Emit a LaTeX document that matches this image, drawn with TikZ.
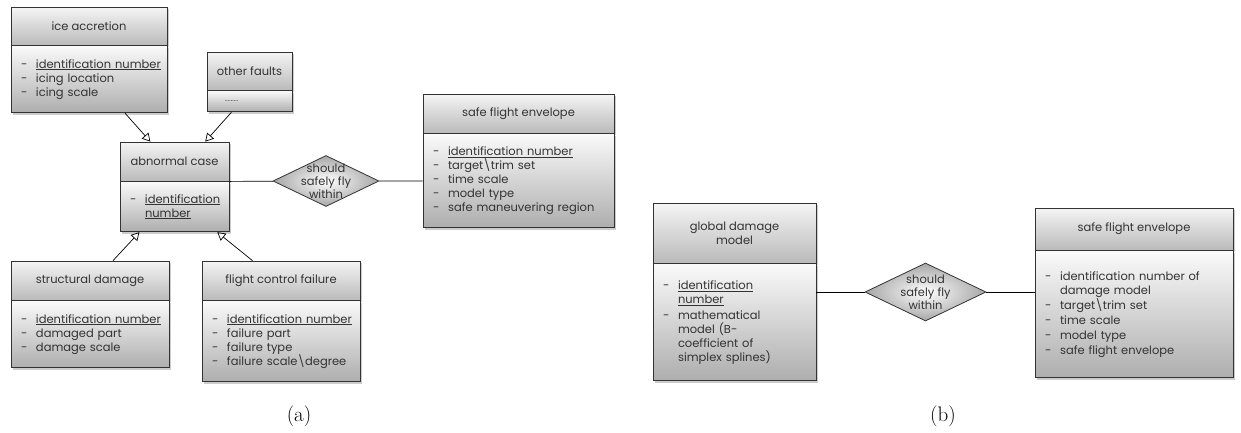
\documentclass[tikz,border=0pt]{standalone}
\usepackage{fontspec}
\newfontfamily\gothfont{Poppins}
\usetikzlibrary{shapes.geometric,arrows.meta,shadows,calc,positioning}
\newcommand{\gth}{\gothfont\fontsize{11.5}{14}\selectfont}
\newcommand{\itm}[1]{\makebox[15pt][l]{-}#1}
\newcommand{\cnt}[1]{\hspace*{15pt}#1}

\begin{document}
\begin{tikzpicture}[x=1pt, y=-1pt]
	\useasboundingbox (0,0) rectangle (1241,432);
	\tikzstyle{every node}=[font=\gth, text=black!80]
	\tikzstyle{head}=[draw=black!80, line width=0.8pt, top color=black!4, bottom color=black!27, drop shadow={shadow xshift=1.5pt, shadow yshift=-2pt, opacity=0.4}, inner sep=0pt, align=center]
	\tikzstyle{body}=[draw=black!80, line width=0.8pt, top color=black!2, bottom color=black!32, drop shadow={shadow xshift=1.5pt, shadow yshift=-2pt, opacity=0.4}, inner xsep=10pt, inner ysep=0pt, align=left]
	\tikzstyle{rel}=[shape=diamond, draw=black!80, line width=0.8pt, shading=radial, inner color=white, outer color=black!35, inner sep=0pt]
	\tikzstyle{isa}=[-{Triangle[open, length=8pt, width=9pt]}, line width=0.7pt]

	% (a) abnormal cases
	\node[head, minimum width=156pt, minimum height=38pt] (iceh) at (89,26) {ice accretion};
	\node[body, text width=136pt, minimum height=67pt, below=0pt of iceh] (iceb) {\itm{\underline{identification number}}\\ \itm{icing location}\\ \itm{icing scale}};

	\node[head, minimum width=85pt, minimum height=38pt] (othh) at (249.5,71) {other faults};
	\node[body, text width=65pt, minimum height=21pt, below=0pt of othh] (othb) {\hspace*{8pt}\scriptsize.........};

	\node[head, minimum width=109pt, minimum height=39pt] (abnh) at (174.5,161.5) {abnormal case};
	\node[body, text width=89pt, minimum height=50pt, below=0pt of abnh] (abnb) {\itm{\underline{identification}}\\ \cnt{\underline{number}}};

	\node[head, minimum width=158pt, minimum height=39pt] (strh) at (90,280.5) {structural damage};
	\node[body, text width=138pt, minimum height=67pt, below=0pt of strh] (strb) {\itm{\underline{identification number}}\\ \itm{damaged part}\\ \itm{damage scale}};

	\node[head, minimum width=158pt, minimum height=39pt] (fcfh) at (281,280.5) {flight control failure};
	\node[body, text width=138pt, minimum height=81pt, below=0pt of fcfh] (fcfb) {\itm{\underline{identification number}}\\ \itm{failure part}\\ \itm{failure type}\\ \itm{failure scale\textbackslash degree}};

	\node[head, minimum width=191pt, minimum height=39pt] (sfeah) at (518.5,113.5) {safe flight envelope};
	\node[body, text width=171pt, minimum height=94pt, below=0pt of sfeah] (sfeab) {\itm{\underline{identification number}}\\ \itm{target\textbackslash trim set}\\ \itm{time scale}\\ \itm{model type}\\ \itm{safe maneuvering region}};

	\node[rel, minimum width=106pt, minimum height=51pt, label={[align=center, font=\gothfont\fontsize{11.5}{13}\selectfont]center:should\\safely fly\\within}] (flya) at (326,181) {};

	\draw[isa] ($(iceb.south west)!0.73!(iceb.south east)$) -- ($(abnh.north west)!0.28!(abnh.north east)$);
	\draw[isa] ($(othb.south west)!0.29!(othb.south east)$) -- ($(abnh.north west)!0.78!(abnh.north east)$);
	\draw[isa] ($(strh.north west)!0.645!(strh.north east)$) -- ($(abnb.south west)!0.18!(abnb.south east)$);
	\draw[isa] ($(fcfh.north west)!0.32!(fcfh.north east)$) -- ($(abnb.south west)!0.89!(abnb.south east)$);
	\draw[line width=0.7pt] (abnh.south east) -- (flya);
	\draw[line width=0.7pt] (flya) -- (sfeab);

	% (b) global damage model
	\node[head, minimum width=163pt, minimum height=60pt] (gdmh) at (734.5,233) {global damage\\model};
	\node[body, text width=143pt, minimum height=117pt, below=0pt of gdmh] (gdmb) {\itm{\underline{identification}}\\ \cnt{\underline{number}}\\[2pt] \itm{mathematical}\\ \cnt{model (B-}\\ \cnt{coefficient of}\\ \cnt{simplex splines)}};

	\node[head, minimum width=198pt, minimum height=42pt] (sfebh) at (1134,229) {safe flight envelope};
	\node[body, text width=178pt, minimum height=127pt, below=0pt of sfebh] (sfebb) {\itm{identification number of}\\ \cnt{damage model}\\[1pt] \itm{target\textbackslash trim set}\\[1pt] \itm{time scale}\\[1pt] \itm{model type}\\[1pt] \itm{safe flight envelope}};

	\node[rel, minimum width=121pt, minimum height=58pt, label={[align=center, font=\gothfont\fontsize{11.5}{13}\selectfont]center:should\\safely fly\\within}] (flyb) at (925.5,292) {};

	\draw[line width=0.7pt] (flyb) -- (flyb -| gdmb.east);
	\draw[line width=0.7pt] (flyb) -- (flyb -| sfebb.west);

	% captions
	\node[font=\normalfont\fontsize{21}{25}\selectfont, text=black] (capa) at (299,416) {(a)};
	\node[font=\normalfont\fontsize{21}{25}\selectfont, text=black] (capb) at (943,416) {(b)};
\end{tikzpicture}
\end{document}
